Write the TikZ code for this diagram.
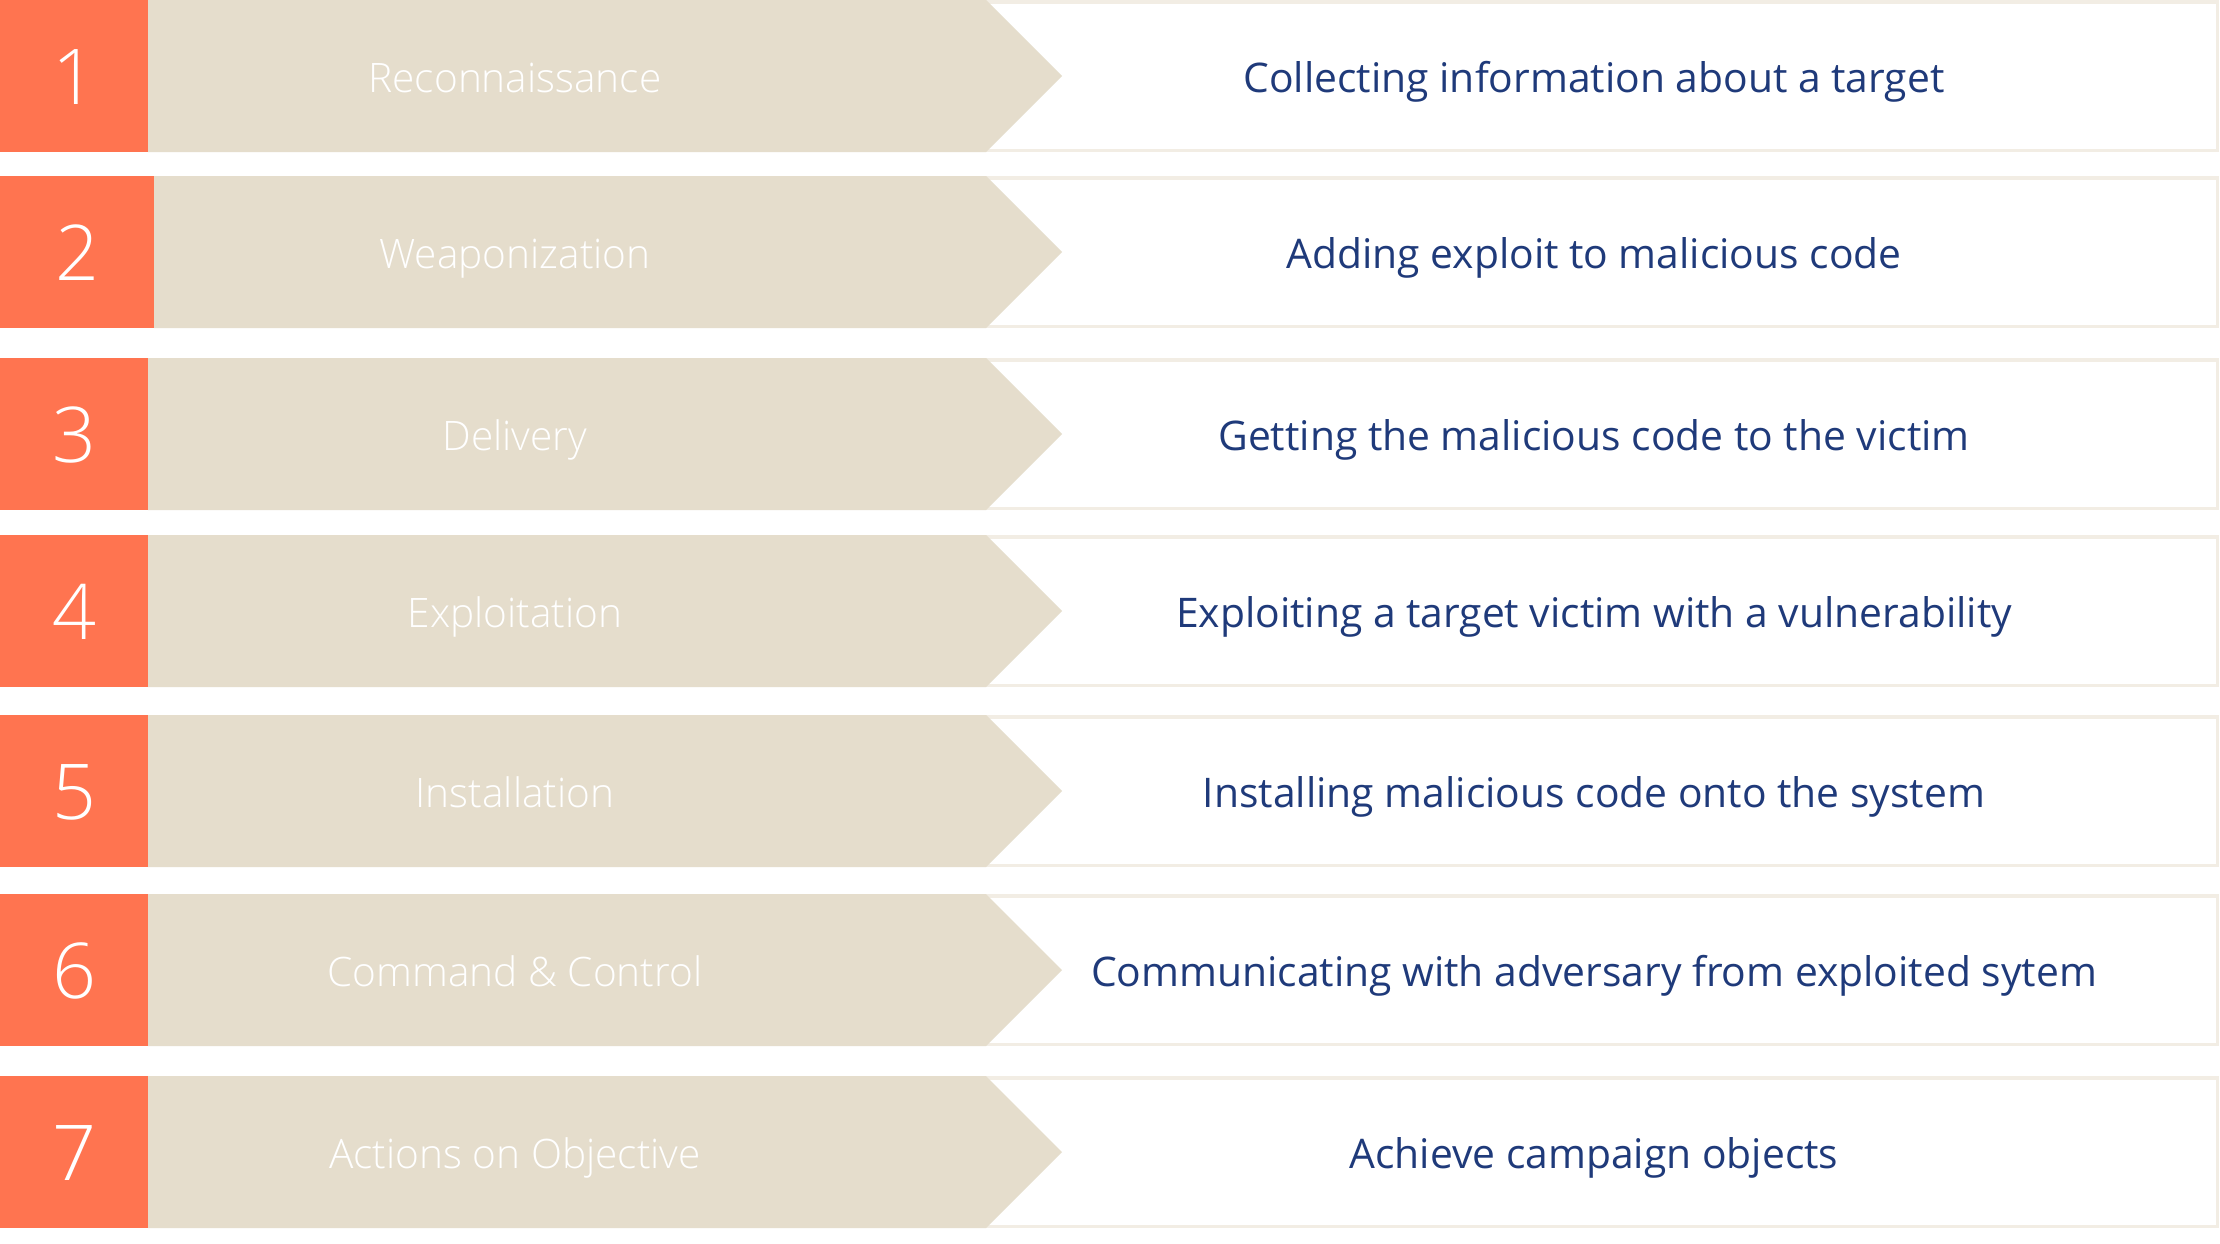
\documentclass[tikz,border=0pt]{standalone}
\usepackage{fontspec}
\setmainfont{Open Sans}
\IfFontExistsTF{Open Sans Light}
  {\newfontfamily\klight{Open Sans Light}}
  {\newfontfamily\klight{Open Sans}}
\definecolor{korange}{HTML}{FF7450}
\definecolor{kbeige}{HTML}{E5DDCC}
\definecolor{kborder}{HTML}{F2EDE4}
\definecolor{knavy}{HTML}{1F3A7A}
\tikzset{
  numtext/.style={anchor=base, inner sep=0pt, text=white, font=\klight\fontsize{38.5}{40}\selectfont},
  labtext/.style={anchor=base, inner sep=0pt, text=white, font=\klight\fontsize{20.3}{24}\selectfont},
  desctext/.style={anchor=base, inner sep=0pt, text=knavy, font=\fontsize{20.4}{24}\selectfont},
  descbox/.style={draw=kborder, fill=white, line width=1.75pt},
}
\begin{document}
\begin{tikzpicture}[x=0.5pt,y=-0.5pt]
\useasboundingbox[fill=white] (0,0) rectangle (2220,1243);
\foreach \i/\t/\w/\lab/\desc in {
  1/0/148/Reconnaissance/Collecting information about a target,
  2/176/154/Weaponization/Adding exploit to malicious code,
  3/358/148/Delivery/Getting the malicious code to the victim,
  4/535/148/Exploitation/Exploiting a target victim with a vulnerability,
  5/715/148/Installation/Installing malicious code onto the system,
  6/894/148/Command \& Control/Communicating with adversary from exploited sytem,
  7/1076/148/Actions on Objective/Achieve campaign objects}
{
  \draw[descbox] (975,\t+1.75) rectangle (2217.5,\t+150.25);
  \fill[kbeige] (\w,\t) -- (986,\t) -- (1062,\t+76) -- (986,\t+152) -- (\w,\t+152) -- cycle;
  \fill[korange] (0,\t) rectangle (\w,\t+152);
  \node[numtext] (num\i) at (\w/2,\t+104) {\i};
  \node[labtext] (lab\i) at (515,\t+92) {\lab};
  \node[desctext] (desc\i) at (1594,\t+92) {\desc};
}
\end{tikzpicture}
\end{document}
